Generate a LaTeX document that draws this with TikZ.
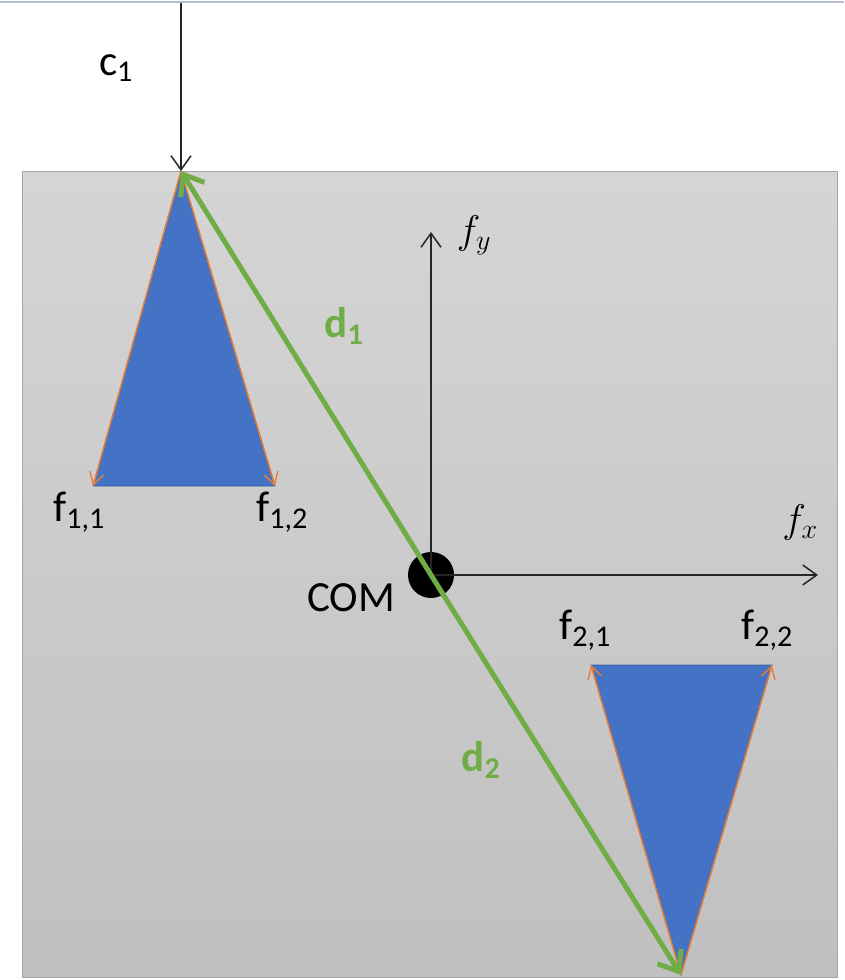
\RequirePackage{fix-cm}
\documentclass[tikz,border=0pt]{standalone}
\usepackage{fontspec}
\setmainfont{Carlito}
\usepackage{xcolor}
\usepackage{tikz}
\usetikzlibrary{arrows.meta}

\definecolor{boxtop}{RGB}{213,213,213}
\definecolor{boxbot}{RGB}{192,192,192}
\definecolor{triblue}{RGB}{68,114,196}
\definecolor{forceor}{RGB}{237,125,49}
\definecolor{levgreen}{RGB}{112,173,71}
\definecolor{frameln}{RGB}{180,190,205}

\tikzset{
  axis/.style={-{Straight Barb[length=14pt,width=20pt]}, line width=1.5pt, black!85},
  force/.style={-{Straight Barb[length=12pt,width=14pt]}, line width=1.4pt, forceor},
  lever/.style={-{Straight Barb[length=18pt,width=28pt]}, line width=5pt, levgreen},
  tri/.style={fill=triblue, draw=triblue!80!black, line width=0.8pt},
  lbl/.style={font=\fontsize{43}{50}\selectfont, inner sep=0pt},
  mlbl/.style={font=\fontsize{40}{48}\selectfont, inner sep=0pt},
}

\begin{document}
\begin{tikzpicture}[x=1pt, y=-1pt]
    \useasboundingbox (0,0) rectangle (844,980);

    % Body
    \draw[frameln, line width=1.5pt] (0,2) -- (844,2);
    \shade[top color=boxtop, bottom color=boxbot] (22,171) rectangle (837,977);
    \draw[gray!70, line width=0.8pt] (22,171) rectangle (837,977);

    % Contact points
    \coordinate (a1) at (181,171);
    \coordinate (b11) at (93,486);
    \coordinate (b12) at (275,486);
    \coordinate (a2) at (681,975);
    \coordinate (b21) at (591,665);
    \coordinate (b22) at (772,665);

    % Friction cones
    \filldraw[tri] (a1) -- (b11) -- (b12) -- cycle;
    \filldraw[tri] (a2) -- (b21) -- (b22) -- cycle;
    \draw[force] (a1) -- (b11);
    \draw[force] (a1) -- (b12);
    \draw[force] (a2) -- (b21);
    \draw[force] (a2) -- (b22);

    % External force
    \coordinate (ctop) at (181,3);
    \draw[axis] (ctop) -- (a1);
    \node[lbl] (c1) at (116,68) {c\textsubscript{1}};

    % Centre of mass and axes
    \node[circle, fill=black, minimum size=46pt, inner sep=0pt] (com) at (431,575) {};
    \coordinate (fytip) at (431,232);
    \coordinate (fxtip) at (818,575);
    \draw[axis] (com.center) -- (fytip);
    \draw[axis] (com.center) -- (fxtip);
    \node[mlbl] (fy) at (474,235) {$f_y$};
    \node[mlbl] (fx) at (800,522) {$f_x$};
    \node[lbl] (comlbl) at (351,598) {COM};

    % Lever arms
    \draw[lever] (com.center) -- (a1);
    \draw[lever] (com.center) -- (a2);
    \node[lbl, levgreen, font=\fontsize{43}{50}\selectfont\bfseries] (d1) at (344,326) {d\textsubscript{1}};
    \node[lbl, levgreen, font=\fontsize{43}{50}\selectfont\bfseries] (d2) at (481,760) {d\textsubscript{2}};

    % Force labels
    \node[lbl] (f11) at (79,512) {f\textsubscript{1,1}};
    \node[lbl] (f12) at (282,512) {f\textsubscript{1,2}};
    \node[lbl] (f21) at (585,630) {f\textsubscript{2,1}};
    \node[lbl] (f22) at (767,630) {f\textsubscript{2,2}};
\end{tikzpicture}
\end{document}
